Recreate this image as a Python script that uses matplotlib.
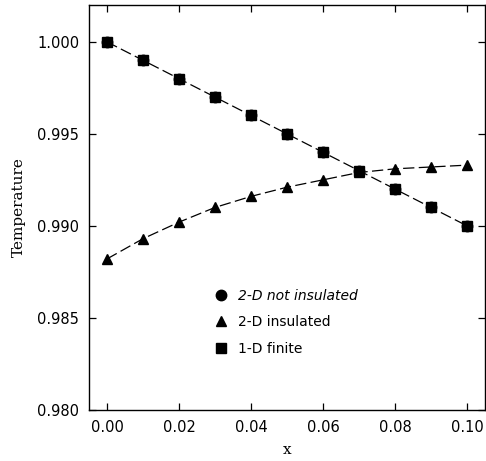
import matplotlib
matplotlib.use("Agg")
import matplotlib.pyplot as plt

# node positions along the plate
x = [0.00, 0.01, 0.02, 0.03, 0.04, 0.05, 0.06, 0.07, 0.08, 0.09, 0.10]
# temperatures for each model
t_not_insulated = [1.000, 0.999, 0.998, 0.997, 0.996, 0.995, 0.994, 0.993, 0.992, 0.991, 0.990]
t_insulated = [0.9882, 0.9893, 0.9902, 0.9910, 0.9916, 0.9921, 0.9925, 0.9929, 0.9931, 0.9932, 0.9933]
t_1d_finite = [1.000, 0.999, 0.998, 0.997, 0.996, 0.995, 0.994, 0.993, 0.992, 0.991, 0.990]

xticks = [0.00, 0.02, 0.04, 0.06, 0.08, 0.10]
yticks = [0.980, 0.985, 0.990, 0.995, 1.000]

fig = plt.figure(figsize=(4.86, 4.61), dpi=100)
ax = fig.add_axes([0.183, 0.111, 0.815, 0.878])

dash = (0, (9, 3.5))
sq, = ax.plot(x, t_1d_finite, color='black', marker='s', markersize=7,
              linestyle=dash, linewidth=0.9)
ci, = ax.plot(x, t_not_insulated, color='black', marker='o', markersize=7.5,
              linestyle='none')
tr, = ax.plot(x, t_insulated, color='black', marker='^', markersize=7.5,
              linestyle=dash, linewidth=0.9)

ax.set_xlim(-0.005, 0.105)
ax.set_ylim(0.980, 1.002)
ax.set_xticks(xticks)
ax.set_xticklabels(['%.2f' % v for v in xticks])
ax.set_yticks(yticks)
ax.set_yticklabels(['%.3f' % v for v in yticks])
ax.tick_params(direction='in', top=True, right=True, length=5, width=0.9,
               labelsize=10.5, pad=7)
for s in ax.spines.values():
    s.set_linewidth(1.0)

ax.set_xlabel('x', family='DejaVu Serif', fontsize=11, labelpad=6)
ax.set_ylabel('Temperature', family='DejaVu Serif', fontsize=11, labelpad=8)

h_ci = plt.Line2D([], [], color='black', marker='o', markersize=7.5, linestyle='none')
h_tr = plt.Line2D([], [], color='black', marker='^', markersize=7.5, linestyle='none')
h_sq = plt.Line2D([], [], color='black', marker='s', markersize=6.5, linestyle='none')
leg = ax.legend([h_ci, h_tr, h_sq], ['2-D not insulated', '2-D insulated', '1-D finite'],
                loc='upper left', bbox_to_anchor=(0.285, 0.33), frameon=False,
                fontsize=10, handlelength=1.0, handletextpad=0.7, labelspacing=0.9)
leg.get_texts()[0].set_style('italic')

fig.savefig('out.png', dpi=100)
